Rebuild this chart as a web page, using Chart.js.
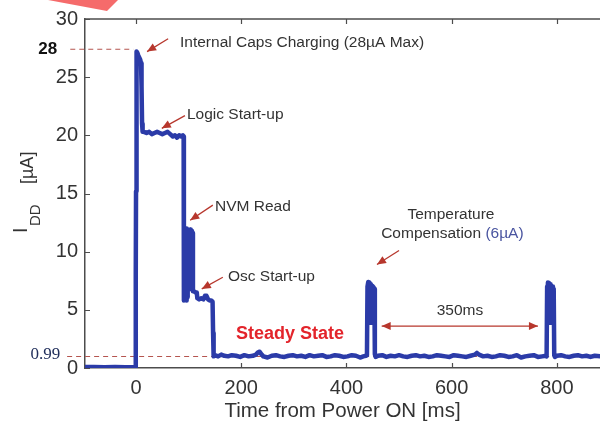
<!DOCTYPE html>
<html>
<head>
<meta charset="utf-8">
<title>IDD power-on profile</title>
<script src="https://cdn.jsdelivr.net/npm/chart.js@4.4.1/dist/chart.umd.min.js"></script>
<style>
  html, body { margin: 0; padding: 0; background: #fff; }
  #wrap { position: relative; width: 600px; height: 425px; overflow: hidden; }
  #chart { display: block; }
  .corner {
    position: absolute; left: 0; top: 0; width: 120px; height: 12px;
    background: #f56b6b;
    clip-path: polygon(48px 0, 118px 0, 107px 11px);
  }
</style>
</head>
<body>
<div id="wrap">
  <canvas id="chart" width="600" height="425"></canvas>
  <div class="corner"></div>
</div>
<script>
"use strict";

// ── Data ──────────────────────────────────────────────────────────────────
const timeMs = [
  // before power on
  -97, -80, -60, -40, -20, -3,
  // inrush / internal caps charging
  -1, -0.5, 0, 0.5, 1.5, 2.5, 4, 6, 8, 9.5, 10.5, 11.5, 12.5,
  // logic start-up
  15, 20, 25, 30, 35, 40, 45, 50, 55, 60, 65, 70, 74, 78, 82, 86, 89, 90.5,
  // NVM read
  91, 91.8, 92.6, 93.4, 94.2, 95, 95.8, 96.6, 97.4, 98.2, 99, 101, 103, 103.6, 104.2, 106, 107.5, 108.2,
  // oscillator start-up
  110, 113, 115.5, 116.5, 120, 124, 128, 131, 134, 137, 140, 143, 145.5, 146.5, 147.5,
  // steady state
  150, 156, 162, 168, 175, 182, 190, 198, 206, 214, 222, 228, 232, 235, 238, 242, 250, 258,
  266, 274, 282, 290, 298, 306, 314, 322, 330, 338, 346, 354, 362, 370, 378, 386, 394, 402,
  410, 418, 426, 432, 437,
  // temperature compensation #1
  439, 440, 441.5, 443.5, 445.5, 446.5, 447.5, 449.5, 451.5, 453, 454, 455.5,
  // steady state
  460, 468, 476, 484, 492, 500, 508, 516, 524, 532, 540, 548, 556, 564, 572, 580, 588, 596,
  604, 612, 620, 628, 636, 644, 648, 652, 660, 668, 676, 684, 692, 700, 708, 716, 724, 732,
  740, 748, 756, 764, 772, 779,
  // temperature compensation #2
  780.5, 781.5, 783, 785, 787, 788, 789, 791, 792.5, 794, 795, 796.5,
  // steady state
  800, 808, 816, 824, 832, 840, 848, 856, 864, 872, 882,
];

const currentUa = [
  0.08, 0.08, 0.06, 0.08, 0.07, 0.08,
  0.1, 8.0, 15.2, 22, 27.2, 27.1, 26.9, 26.7, 26.5, 26.2, 24.2, 21, 20.3,
  20.3, 20.2, 20.3, 20.1, 20.2, 20.3, 20.2, 20.1, 20.2, 20.3, 20.1, 19.9, 20.0, 19.8, 20.0, 19.9, 20.0, 19.9,
  5.8, 12.0, 5.9, 11.9, 6.0, 12.0, 5.8, 11.9, 6.1, 11.8, 11.9, 11.8, 11.9, 6.8, 11.7, 11.8, 11.6, 6.6,
  6.6, 6.5, 6.5, 6.0, 5.9, 6.0, 5.9, 6.2, 6.2, 5.9, 5.8, 5.8, 5.7, 3.0, 1.0,
  1.1, 1.0, 1.15, 1.05, 1.0, 1.1, 1.05, 0.95, 1.1, 1.0, 1.05, 1.15, 1.35, 1.4, 1.2, 1.0, 0.9, 1.05,
  1.1, 1.0, 0.95, 1.05, 1.1, 1.0, 1.05, 0.95, 1.1, 1.0, 1.05, 1.1, 0.95, 1.0, 1.1, 1.05, 0.95, 1.0,
  1.1, 1.05, 0.9, 1.0, 1.05,
  1.1, 7.0, 7.4, 7.35, 7.2, 3.9, 7.1, 7.05, 6.95, 6.8, 1.2, 0.95,
  1.05, 1.1, 0.95, 1.05, 1.0, 1.1, 1.0, 0.95, 1.05, 1.1, 1.0, 1.05, 0.95, 1.0, 1.1, 1.05, 1.0, 0.95,
  1.1, 1.05, 1.0, 0.95, 1.05, 1.15, 1.3, 1.15, 1.0, 1.05, 0.95, 1.0, 1.1, 1.05, 0.95, 1.0, 1.1, 0.9,
  1.0, 1.05, 1.1, 0.95, 1.0, 1.05,
  1.0, 7.0, 7.35, 7.3, 7.2, 3.9, 7.1, 7.0, 6.9, 6.8, 1.1, 0.95,
  1.05, 1.1, 1.0, 0.95, 1.05, 1.1, 1.0, 1.05, 0.95, 1.05, 1.0,
];

const xTickValues = [0, 200, 400, 600, 800];
const yTickValues = [0, 5, 10, 15, 20, 25, 30];

// reference levels (peak and steady state)
const peakLevel = 27.4;
const steadyLevel = 0.99;

// ── Annotations (data coordinates) ────────────────────────────────────────
const notes = [
  { parts: [["Internal Caps Charging (28µA Max)", "#333"]], x: 83.6, y: 27.94, align: "left" },
  { parts: [["Logic Start-up", "#333"]], x: 96.9, y: 21.75, align: "left" },
  { parts: [["NVM Read", "#333"]], x: 150.1, y: 13.84, align: "left" },
  { parts: [["Osc Start-up", "#333"]], x: 174.8, y: 7.82, align: "left" },
  { parts: [["Temperature", "#333"]], x: 598.6, y: 13.15, align: "center" },
  { parts: [["Compensation ", "#333"], ["(6µA)", "#4a55a0"]], x: 601.4, y: 11.52, align: "center" },
  { parts: [["350ms", "#333"]], x: 615.7, y: 4.9, align: "center" },
];

const arrows = [
  { from: [61, 28.3], to: [21, 27.2] },
  { from: [93, 21.7], to: [49, 20.6] },
  { from: [146, 14.0], to: [103, 12.7] },
  { from: [165, 7.8], to: [125, 6.8] },
  { from: [500, 10.1], to: [458, 8.9] },
];

const spanArrow = { from: 467, to: 764, y: 3.6 };

// ── Styling ───────────────────────────────────────────────────────────────
const FONT = "'Liberation Sans', Arial, sans-serif";
const AXIS = "#4d4d4d";
const ARROW = "#b7372d";
const DASH = "#b5554f";
const TRACE = "#2b3ba8";

Chart.defaults.font.family = FONT;
Chart.defaults.color = "#333";

function drawArrowHead(ctx, x1, y1, x2, y2, len, half) {
  const ang = Math.atan2(y2 - y1, x2 - x1);
  ctx.beginPath();
  ctx.moveTo(x2, y2);
  ctx.lineTo(x2 - len * Math.cos(ang) + half * Math.sin(ang), y2 - len * Math.sin(ang) - half * Math.cos(ang));
  ctx.lineTo(x2 - len * Math.cos(ang) - half * Math.sin(ang), y2 - len * Math.sin(ang) + half * Math.cos(ang));
  ctx.closePath();
  ctx.fill();
}

// frame, inward ticks and dashed reference lines
const frameTicks = {
  id: "frameTicks",
  beforeDatasetsDraw(chart) {
    const { ctx, chartArea: a, scales: { x, y } } = chart;
    ctx.save();
    ctx.strokeStyle = AXIS;
    ctx.lineWidth = 1.5;
    ctx.beginPath();
    ctx.moveTo(a.left, a.top);
    ctx.lineTo(a.right, a.top);
    ctx.stroke();

    ctx.lineWidth = 1.2;
    ctx.beginPath();
    for (const v of xTickValues) {
      const px = Math.round(x.getPixelForValue(v)) + 0.5;
      ctx.moveTo(px, a.bottom); ctx.lineTo(px, a.bottom - 5);
      ctx.moveTo(px, a.top); ctx.lineTo(px, a.top + 5);
    }
    for (const v of yTickValues) {
      const py = Math.round(y.getPixelForValue(v)) + 0.5;
      ctx.moveTo(a.left, py); ctx.lineTo(a.left + 5, py);
    }
    ctx.stroke();

    ctx.strokeStyle = DASH;
    ctx.lineWidth = 1.2;
    ctx.setLineDash([5, 4]);
    ctx.beginPath();
    let py = y.getPixelForValue(peakLevel);
    ctx.moveTo(x.getPixelForValue(-125), py);
    ctx.lineTo(x.getPixelForValue(-5), py);
    py = y.getPixelForValue(steadyLevel);
    ctx.moveTo(x.getPixelForValue(-131), py);
    ctx.lineTo(x.getPixelForValue(882), py);
    ctx.stroke();
    ctx.restore();
  },
};

const annotations = {
  id: "annotations",
  afterDatasetsDraw(chart) {
    const { ctx, scales: { x, y } } = chart;
    ctx.save();

    // arrows
    ctx.strokeStyle = ARROW;
    ctx.fillStyle = ARROW;
    ctx.lineWidth = 1.3;
    for (const ar of arrows) {
      const x1 = x.getPixelForValue(ar.from[0]), y1 = y.getPixelForValue(ar.from[1]);
      const x2 = x.getPixelForValue(ar.to[0]), y2 = y.getPixelForValue(ar.to[1]);
      ctx.beginPath(); ctx.moveTo(x1, y1); ctx.lineTo(x2, y2); ctx.stroke();
      drawArrowHead(ctx, x1, y1, x2, y2, 9, 4);
    }
    const sx1 = x.getPixelForValue(spanArrow.from), sx2 = x.getPixelForValue(spanArrow.to);
    const sy = y.getPixelForValue(spanArrow.y);
    ctx.beginPath(); ctx.moveTo(sx1, sy); ctx.lineTo(sx2, sy); ctx.stroke();
    drawArrowHead(ctx, sx2, sy, sx1, sy, 9, 4);
    drawArrowHead(ctx, sx1, sy, sx2, sy, 9, 4);

    // note texts
    ctx.font = `15.5px ${FONT}`;
    ctx.textBaseline = "middle";
    ctx.textAlign = "left";
    for (const n of notes) {
      const total = n.parts.reduce((s, p) => s + ctx.measureText(p[0]).width, 0);
      let px = x.getPixelForValue(n.x);
      if (n.align === "center") px -= total / 2;
      const py = y.getPixelForValue(n.y);
      for (const [txt, col] of n.parts) {
        ctx.fillStyle = col;
        ctx.fillText(txt, px, py);
        px += ctx.measureText(txt).width;
      }
    }

    ctx.fillStyle = "#e3242b";
    ctx.font = `bold 18px ${FONT}`;
    ctx.fillText("Steady State", x.getPixelForValue(190), y.getPixelForValue(2.92));

    // level labels left of the axis
    ctx.textAlign = "right";
    ctx.fillStyle = "#111";
    ctx.font = `bold 17px ${FONT}`;
    ctx.fillText("28", x.getPixelForValue(-150), y.getPixelForValue(peakLevel));
    ctx.fillStyle = "#22305c";
    ctx.font = "17px 'Liberation Serif', 'Times New Roman', serif";
    ctx.fillText("0.99", x.getPixelForValue(-144), y.getPixelForValue(1.2));
    ctx.restore();
  },
  afterDraw(chart) {
    // rotated y title with subscript: I_DD [µA]
    const { ctx } = chart;
    const pieces = [
      { text: "I", size: 19.5, base: 27, start: 233 },
      { text: "DD", size: 15, base: 40, start: 226 },
      { text: "[µA]", size: 18, base: 33, start: 184 },
    ];
    ctx.save();
    ctx.fillStyle = "#333";
    ctx.textBaseline = "alphabetic";
    ctx.textAlign = "left";
    for (const p of pieces) {
      ctx.save();
      ctx.translate(p.base, p.start);
      ctx.rotate(-Math.PI / 2);
      ctx.font = `${p.size}px ${FONT}`;
      ctx.fillText(p.text, 0, 0);
      ctx.restore();
    }
    ctx.restore();
  },
};

// ── Chart ─────────────────────────────────────────────────────────────────
new Chart(document.getElementById("chart"), {
  type: "line",
  data: {
    datasets: [{
      data: timeMs.map((t, i) => ({ x: t, y: currentUa[i] })),
      borderColor: TRACE,
      borderWidth: 4.5,
      pointRadius: 0,
      tension: 0,
      fill: false,
      borderJoinStyle: "round",
      borderCapStyle: "round",
    }],
  },
  options: {
    responsive: false,
    animation: false,
    devicePixelRatio: 1,
    layout: { padding: { top: 19, right: 0, left: 0, bottom: 0 } },
    plugins: { legend: { display: false }, tooltip: { enabled: false } },
    scales: {
      x: {
        type: "linear",
        min: -97,
        max: 882,
        afterBuildTicks: s => { s.ticks = xTickValues.map(v => ({ value: v })); },
        afterFit: s => { s.height = 57; },
        ticks: { font: { size: 20 }, color: "#333", padding: 8, maxRotation: 0, autoSkip: false },
        grid: { display: false, drawTicks: false },
        border: { display: true, color: AXIS, width: 1.5 },
        title: {
          display: true,
          text: "Time from Power ON [ms]",
          font: { size: 20.5 },
          color: "#333",
          padding: { top: 0, bottom: 1 },
        },
      },
      y: {
        type: "linear",
        min: 0,
        max: 30,
        afterBuildTicks: s => { s.ticks = yTickValues.map(v => ({ value: v })); },
        afterFit: s => { s.width = 85; },
        ticks: { font: { size: 20 }, color: "#333", padding: 7, autoSkip: false },
        grid: { display: false, drawTicks: false },
        border: { display: true, color: AXIS, width: 1.5 },
      },
    },
  },
  plugins: [frameTicks, annotations],
});
</script>
</body>
</html>
